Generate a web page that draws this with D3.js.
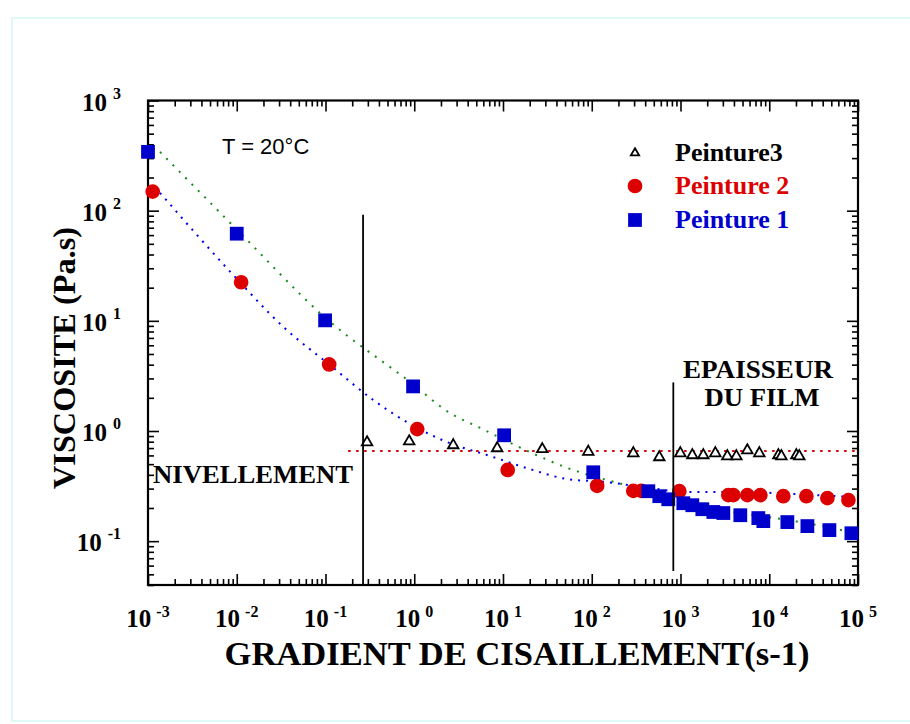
<!DOCTYPE html>
<html>
<head>
<meta charset="utf-8">
<script src="https://cdn.jsdelivr.net/npm/d3@7"></script>
<style>
  html, body { margin: 0; padding: 0; background: #ffffff; }
  svg { display: block; }
</style>
</head>
<body>
<svg id="chart" width="910" height="724"></svg>
<script>
// ---------------- data ----------------
// Peinture 1 (blue squares)
const p1X = [0.001, 0.01, 0.099, 0.97, 10.3, 104, 434, 577, 728, 1076, 1359, 1762, 2344, 3040, 4721, 7534, 8576, 16000, 26900, 47600, 84300];
const p1Y = [342, 61.8, 10.1, 2.54, 0.914, 0.422, 0.284, 0.256, 0.240, 0.221, 0.212, 0.195, 0.184, 0.180, 0.172, 0.162, 0.152, 0.149, 0.137, 0.126, 0.118];
// Peinture 2 (red circles)
const p2X = [0.00113, 0.0112, 0.11, 1.08, 11.3, 115, 294, 361, 970, 3459, 3940, 5660, 7940, 14400, 26200, 45200, 78000];
const p2Y = [149, 22.4, 4.02, 1.04, 0.443, 0.318, 0.286, 0.286, 0.284, 0.262, 0.262, 0.262, 0.262, 0.256, 0.256, 0.246, 0.236];
// Peinture3 (open triangles)
const p3X = [0.294, 0.877, 2.75, 8.6, 27.7, 91.4, 294, 577, 995, 1359, 1807, 2468, 3371, 4258, 5660, 7730, 12680, 13700, 20200, 21800];
const p3Y = [0.790, 0.807, 0.743, 0.698, 0.684, 0.648, 0.628, 0.578, 0.628, 0.603, 0.603, 0.628, 0.590, 0.590, 0.668, 0.628, 0.603, 0.590, 0.603, 0.590];
// fitted curves
const fit1X = [0.001365, 0.01007, 0.0991, 0.973, 2.35, 5.98, 20.3, 54.3, 80.2, 226, 1076, 3741, 11720, 39720, 93300];
const fit1Y = [342, 67.1, 10.7, 2.65, 1.51, 1.035, 0.641, 0.459, 0.413, 0.328, 0.226, 0.184, 0.162, 0.137, 0.118];
const fit2X = [0.001365, 0.00908, 0.0341, 0.11, 0.362, 0.832, 2.23, 7.18, 20.3, 53.0, 145.5, 457, 1194, 2344, 12330, 31400, 58600, 86500];
const fit2Y = [145.2, 26.2, 8.69, 4.02, 1.86, 1.20, 0.807, 0.592, 0.450, 0.366, 0.344, 0.303, 0.279, 0.279, 0.273, 0.262, 0.256, 0.251];
const fit3X = [0.18, 100000];
const fit3Y = [0.659, 0.659];
// vertical markers
const vLinesX = [0.265, 830];
const vLinesTop = [91.9, 2.76];
const vLinesBottom = [0.04, 0.0536];
// ticks
const xTickExp = [-3, -2, -1, 0, 1, 2, 3, 4, 5];
const yTickExp = [-1, 0, 1, 2, 3];
const legendLabels = ["Peinture3", "Peinture 2", "Peinture 1"];
const xTitle = "GRADIENT DE CISAILLEMENT(s-1)";
const yTitle = "VISCOSITE (Pa.s)";

// ---------------- chart ----------------
const svg = d3.select("#chart");
const serif = "'Liberation Serif', 'Times New Roman', serif";
const sans = "'Liberation Sans', Arial, sans-serif";
const BLUE = "#0000cc", RED = "#dd0000", GREEN = "#1a8a1a", DBLUE = "#0000ee";

const L = 148, R = 858, T = 100.5, B = 585;
const x = d3.scaleLog().domain([1e-3, 1e5]).range([L, R]);
const y = d3.scaleLog().domain([0.04, 1000]).range([B, T]);

// outer light frame
svg.append("rect").attr("x", 12).attr("y", 18).attr("width", 930).attr("height", 703)
  .attr("fill", "none").attr("stroke", "#d6f6f6").attr("stroke-width", 1.5);

// minor/major tick values
const xMajor = xTickExp.map(e => Math.pow(10, e));
const xMinor = [];
for (let e = -3; e < 5; e++) for (let k = 2; k <= 9; k++) xMinor.push(k * Math.pow(10, e));
const yMajor = yTickExp.map(e => Math.pow(10, e));
const yMinor = [];
for (let e = -2; e < 3; e++) for (let k = 2; k <= 9; k++) { const v = k * Math.pow(10, e); if (v >= 0.04 && v <= 1000) yMinor.push(v); }

function axisGroup(axis, tx, ty) {
  const g = svg.append("g").attr("transform", `translate(${tx},${ty})`).call(axis);
  g.select(".domain").remove();
  g.selectAll("line").attr("stroke", "#000").attr("stroke-width", 1.6);
  g.selectAll("text").remove();
  return g;
}
const MJ = 11, MN = 6;
axisGroup(d3.axisBottom(x).tickValues(xMinor).tickSize(-MN).tickSizeOuter(0).tickFormat(""), 0, B);
axisGroup(d3.axisBottom(x).tickValues(xMajor).tickSize(-MJ).tickSizeOuter(0).tickFormat(""), 0, B);
axisGroup(d3.axisTop(x).tickValues(xMinor).tickSize(-MN).tickSizeOuter(0).tickFormat(""), 0, T);
axisGroup(d3.axisTop(x).tickValues(xMajor).tickSize(-MJ).tickSizeOuter(0).tickFormat(""), 0, T);
axisGroup(d3.axisLeft(y).tickValues(yMinor).tickSize(-MN).tickSizeOuter(0).tickFormat(""), L, 0);
axisGroup(d3.axisLeft(y).tickValues(yMajor).tickSize(-MJ).tickSizeOuter(0).tickFormat(""), L, 0);
axisGroup(d3.axisRight(y).tickValues(yMinor).tickSize(-MN).tickSizeOuter(0).tickFormat(""), R, 0);
axisGroup(d3.axisRight(y).tickValues(yMajor).tickSize(-MJ).tickSizeOuter(0).tickFormat(""), R, 0);

// frame
svg.append("rect").attr("x", L).attr("y", T).attr("width", R - L).attr("height", B - T)
  .attr("fill", "none").attr("stroke", "#000").attr("stroke-width", 2.2);

// x tick labels
xTickExp.forEach(e => {
  const t = svg.append("text").attr("x", x(Math.pow(10, e))).attr("y", 627)
    .attr("text-anchor", "middle").attr("font-family", serif).attr("font-weight", "bold");
  t.append("tspan").attr("font-size", 25).text("10");
  t.append("tspan").attr("font-size", 16).attr("dx", 5).attr("dy", -10).text(String(e));
});
// y tick labels
yTickExp.forEach(e => {
  const t = svg.append("text").attr("x", 121).attr("y", y(Math.pow(10, e)) + 10)
    .attr("text-anchor", "end").attr("font-family", serif).attr("font-weight", "bold");
  t.append("tspan").attr("font-size", 25).text("10");
  t.append("tspan").attr("font-size", 16).attr("dx", 6).attr("dy", -12).text(String(e));
});

// titles
svg.append("text").attr("x", 517).attr("y", 665).attr("text-anchor", "middle")
  .attr("font-family", serif).attr("font-weight", "bold").attr("font-size", 33)
  .attr("textLength", 585).attr("lengthAdjust", "spacingAndGlyphs").text(xTitle);
svg.append("text").attr("transform", "translate(75,358) rotate(-90)").attr("text-anchor", "middle")
  .attr("font-family", serif).attr("font-weight", "bold").attr("font-size", 32)
  .attr("textLength", 262).attr("lengthAdjust", "spacingAndGlyphs").text(yTitle);

// annotations
svg.append("text").attr("x", 222).attr("y", 154).attr("font-family", sans).attr("font-size", 22)
  .text("T = 20\u00B0C");
svg.append("text").attr("x", 153).attr("y", 483).attr("font-family", serif).attr("font-weight", "bold")
  .attr("font-size", 26).attr("textLength", 200).attr("lengthAdjust", "spacingAndGlyphs").text("NIVELLEMENT");
svg.append("text").attr("x", 758).attr("y", 378).attr("text-anchor", "middle").attr("font-family", serif)
  .attr("font-weight", "bold").attr("font-size", 25).attr("textLength", 150).attr("lengthAdjust", "spacingAndGlyphs").text("EPAISSEUR");
svg.append("text").attr("x", 762).attr("y", 406).attr("text-anchor", "middle").attr("font-family", serif)
  .attr("font-weight", "bold").attr("font-size", 25).attr("textLength", 115).attr("lengthAdjust", "spacingAndGlyphs").text("DU FILM");

// fit curves
const line = d3.line().x(d => x(d[0])).y(d => y(d[1])).curve(d3.curveMonotoneX);
svg.append("path").datum(d3.zip(fit1X, fit1Y)).attr("d", line).attr("fill", "none")
  .attr("stroke", GREEN).attr("stroke-width", 2).attr("stroke-dasharray", "2,7").attr("stroke-linecap", "butt");
svg.append("path").datum(d3.zip(fit2X, fit2Y)).attr("d", line).attr("fill", "none")
  .attr("stroke", DBLUE).attr("stroke-width", 2).attr("stroke-dasharray", "2,6");
svg.append("path").datum(d3.zip(fit3X, fit3Y)).attr("d", line).attr("fill", "none")
  .attr("stroke", RED).attr("stroke-width", 2).attr("stroke-dasharray", "2.5,5.5");

// markers
const sq = d3.symbol().type(d3.symbolSquare).size(190);
const ci = d3.symbol().type(d3.symbolCircle).size(170);
const tri = d3.symbol().type(d3.symbolTriangle).size(48);

svg.append("g").selectAll("path").data(d3.zip(p2X, p2Y)).join("path")
  .attr("d", ci).attr("transform", d => `translate(${x(d[0])},${y(d[1])})`).attr("fill", RED);
svg.append("g").selectAll("path").data(d3.zip(p1X, p1Y)).join("path")
  .attr("d", sq).attr("transform", d => `translate(${x(d[0])},${y(d[1])})`).attr("fill", BLUE);
svg.append("g").selectAll("path").data(d3.zip(p3X, p3Y)).join("path")
  .attr("d", tri).attr("transform", d => `translate(${x(d[0])},${y(d[1])})`)
  .attr("fill", "#fff").attr("stroke", "#000").attr("stroke-width", 1.8);

// vertical lines
vLinesX.forEach((vx, i) => {
  svg.append("line").attr("x1", x(vx)).attr("x2", x(vx)).attr("y1", y(vLinesTop[i])).attr("y2", y(vLinesBottom[i]))
    .attr("stroke", "#000").attr("stroke-width", 1.8);
});

// legend
const legColors = ["#000", RED, BLUE];
const legY = [153, 186, 220];
const legSyms = [d3.symbol().type(d3.symbolTriangle).size(30), ci, sq];
legendLabels.forEach((lab, i) => {
  const p = svg.append("path").attr("d", legSyms[i]).attr("transform", `translate(635,${legY[i]})`);
  if (i === 0) p.attr("fill", "#fff").attr("stroke", "#000").attr("stroke-width", 1.8);
  else p.attr("fill", legColors[i]);
  svg.append("text").attr("x", 675).attr("y", legY[i] + 8).attr("font-family", serif).attr("font-weight", "bold")
    .attr("font-size", 26).attr("fill", legColors[i]).text(lab);
});
</script>
</body>
</html>
